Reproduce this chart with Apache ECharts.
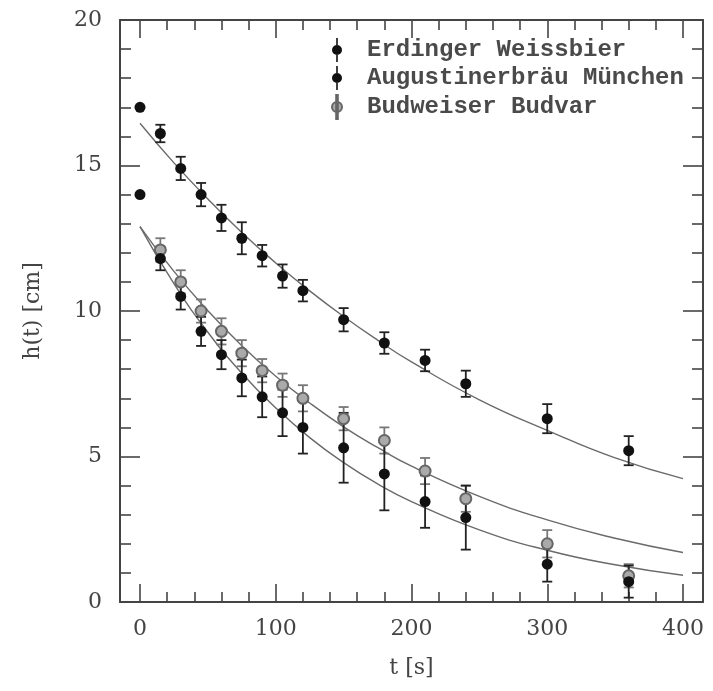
<!DOCTYPE html>
<html>
<head>
<meta charset="utf-8">
<script src="https://cdn.jsdelivr.net/npm/echarts@6/dist/echarts.min.js"></script>
<style>
  html, body { margin: 0; padding: 0; background: #fff; }
  #main { width: 713px; height: 691px; }
</style>
</head>
<body>
<div id="main"></div>
<script>
// measured data (time in s, foam height in cm)
const times = [0, 15, 30, 45, 60, 75, 90, 105, 120, 150, 180, 210, 240, 300, 360];
const erdinger = [17.0, 16.1, 14.9, 14.0, 13.2, 12.5, 11.9, 11.2, 10.7, 9.7, 8.9, 8.3, 7.5, 6.3, 5.2];
const erdingerErr = [0, 0.3, 0.4, 0.4, 0.45, 0.55, 0.37, 0.4, 0.37, 0.4, 0.37, 0.37, 0.45, 0.5, 0.5];
const augustiner = [14.0, 11.8, 10.5, 9.3, 8.5, 7.7, 7.05, 6.5, 6.0, 5.3, 4.4, 3.45, 2.9, 1.3, 0.7];
const augustinerErr = [0, 0.4, 0.45, 0.5, 0.5, 0.63, 0.7, 0.8, 0.9, 1.2, 1.25, 0.9, 1.1, 0.6, 0.55];
const budTimes = [15, 30, 45, 60, 75, 90, 105, 120, 150, 180, 210, 240, 300, 360];
const budweiser = [12.1, 11.0, 10.0, 9.3, 8.55, 7.95, 7.45, 7.0, 6.3, 5.55, 4.5, 3.55, 2.0, 0.9];
const budweiserErr = [0.4, 0.4, 0.4, 0.45, 0.45, 0.4, 0.4, 0.45, 0.4, 0.45, 0.45, 0.45, 0.47, 0.4];

// fitted curves
const fitTimes = [0, 25, 50, 75, 100, 125, 150, 175, 200, 250, 300, 350, 400];
const fitErdinger = [16.45, 15.09, 13.85, 12.7, 11.65, 10.69, 9.81, 9.0, 8.25, 6.95, 5.9, 4.95, 4.24];
const fitBudweiser = [12.9, 11.36, 10.01, 8.81, 7.76, 6.84, 6.02, 5.31, 4.67, 3.63, 2.82, 2.19, 1.7];
const fitAugustiner = [12.9, 10.94, 9.27, 7.86, 6.67, 5.65, 4.79, 4.06, 3.45, 2.48, 1.78, 1.28, 0.92];

const names = ['Erdinger Weissbier', 'Augustinerbräu München', 'Budweiser Budvar'];

const axisColor = '#444';
const labelFont = { fontFamily: 'DejaVu Serif', fontSize: 22, color: '#444' };
const tickLine = { color: axisColor, width: 1.6 };
const frameLine = { show: true, onZero: false, lineStyle: { color: axisColor, width: 2 } };

function pairs(xs, ys) {
  return xs.map((x, i) => [x, ys[i]]);
}
function errData(xs, ys, es) {
  return xs.map((x, i) => [x, ys[i] - es[i], ys[i] + es[i]]).filter((d, i) => es[i] > 0);
}
function errSeries(data, color) {
  return {
    type: 'custom',
    xAxisIndex: 0, yAxisIndex: 0,
    silent: true,
    z: 3,
    data: data,
    renderItem: function (params, api) {
      const lo = api.coord([api.value(0), api.value(1)]);
      const hi = api.coord([api.value(0), api.value(2)]);
      const w = 5;
      const st = { stroke: color, lineWidth: 1.8 };
      return {
        type: 'group',
        children: [
          { type: 'line', shape: { x1: lo[0], y1: lo[1], x2: hi[0], y2: hi[1] }, style: st },
          { type: 'line', shape: { x1: lo[0] - w, y1: lo[1], x2: lo[0] + w, y2: lo[1] }, style: st },
          { type: 'line', shape: { x1: hi[0] - w, y1: hi[1], x2: hi[0] + w, y2: hi[1] }, style: st }
        ]
      };
    }
  };
}
function fitSeries(xs, ys) {
  return {
    type: 'line', smooth: true, showSymbol: false, silent: true,
    xAxisIndex: 0, yAxisIndex: 0,
    lineStyle: { color: '#6a6a6a', width: 1.4 }, z: 2,
    data: pairs(xs, ys)
  };
}

// data grid spans t = 0..400; the frame grid is a bit wider (t = -15..415)
function xAxisDef(pos, showLabel) {
  return {
    gridIndex: 0, type: 'value', position: pos, min: 0, max: 400, interval: 100,
    splitLine: { lineStyle: { opacity: 0 } },
    axisLine: frameLine,
    axisTick: { show: true, inside: true, length: 18, lineStyle: tickLine },
    minorTick: { show: true, splitNumber: 5, length: 10, lineStyle: tickLine },
    axisLabel: showLabel ? Object.assign({ show: true, margin: 16 }, labelFont) : { show: false }
  };
}
function frameXAxis(pos) {
  return {
    gridIndex: 1, type: 'value', position: pos, min: 0, max: 1,
    splitLine: { show: false }, axisTick: { show: false }, axisLabel: { show: false },
    axisLine: frameLine
  };
}
function yAxisDef(pos, showLabel) {
  return {
    gridIndex: 1, type: 'value', position: pos, min: 0, max: 20, interval: 5,
    splitLine: { show: false },
    axisLine: frameLine,
    axisTick: { show: true, inside: true, length: 20, lineStyle: tickLine },
    minorTick: { show: true, splitNumber: 5, length: 11, lineStyle: tickLine },
    axisLabel: showLabel ? Object.assign({ margin: 18 }, labelFont) : { show: false }
  };
}

const legendIcon = 'path://M4.2,0 L5.8,0 L5.8,24 L4.2,24 Z M0,12 A5,5 0 1,1 10,12 A5,5 0 1,1 0,12 Z';

const chart = echarts.init(document.getElementById('main'));
chart.setOption({
  animation: false,
  grid: [
    { left: 140, right: 30, top: 20, bottom: 89, containLabel: false, outerBoundsMode: 'none' },
    { left: 120, right: 10, top: 20, bottom: 89, containLabel: false, outerBoundsMode: 'none' }
  ],
  legend: {
    orient: 'vertical', left: 326, top: 33,
    itemWidth: 10, itemHeight: 24, itemGap: 4,
    selectedMode: false,
    textStyle: { fontFamily: 'Liberation Mono', fontWeight: 'bold', fontSize: 24,
      color: '#4a4a4a', padding: [0, 0, 0, 20] },
    data: [
      { name: names[0], icon: legendIcon },
      { name: names[1], icon: legendIcon },
      { name: names[2], icon: legendIcon }
    ]
  },
  xAxis: [
    Object.assign(xAxisDef('bottom', true), {
      name: 't [s]', nameLocation: 'middle', nameGap: 55,
      nameTextStyle: labelFont
    }),
    xAxisDef('top', false),
    frameXAxis('bottom'),
    frameXAxis('top')
  ],
  yAxis: [
    { gridIndex: 0, type: 'value', min: 0, max: 20, show: false },
    Object.assign(yAxisDef('left', true), {
      name: 'h(t) [cm]', nameLocation: 'middle', nameGap: 76,
      nameTextStyle: labelFont
    }),
    yAxisDef('right', false)
  ],
  series: [
    fitSeries(fitTimes, fitErdinger),
    fitSeries(fitTimes, fitBudweiser),
    fitSeries(fitTimes, fitAugustiner),
    errSeries(errData(budTimes, budweiser, budweiserErr), '#777'),
    {
      name: names[2], type: 'scatter', symbol: 'circle', symbolSize: 11, z: 4,
      xAxisIndex: 0, yAxisIndex: 0,
      itemStyle: { color: '#aaa', borderColor: '#666', borderWidth: 2, opacity: 1 },
      data: pairs(budTimes, budweiser)
    },
    errSeries(errData(times, augustiner, augustinerErr), '#222'),
    {
      name: names[1], type: 'scatter', symbol: 'circle', symbolSize: 11, z: 5,
      xAxisIndex: 0, yAxisIndex: 0,
      itemStyle: { color: '#111', opacity: 1 },
      data: pairs(times, augustiner)
    },
    errSeries(errData(times, erdinger, erdingerErr), '#222'),
    {
      name: names[0], type: 'scatter', symbol: 'circle', symbolSize: 11, z: 5,
      xAxisIndex: 0, yAxisIndex: 0,
      itemStyle: { color: '#111', opacity: 1 },
      data: pairs(times, erdinger)
    }
  ]
});
window.addEventListener('resize', chart.resize);
</script>
</body>
</html>
